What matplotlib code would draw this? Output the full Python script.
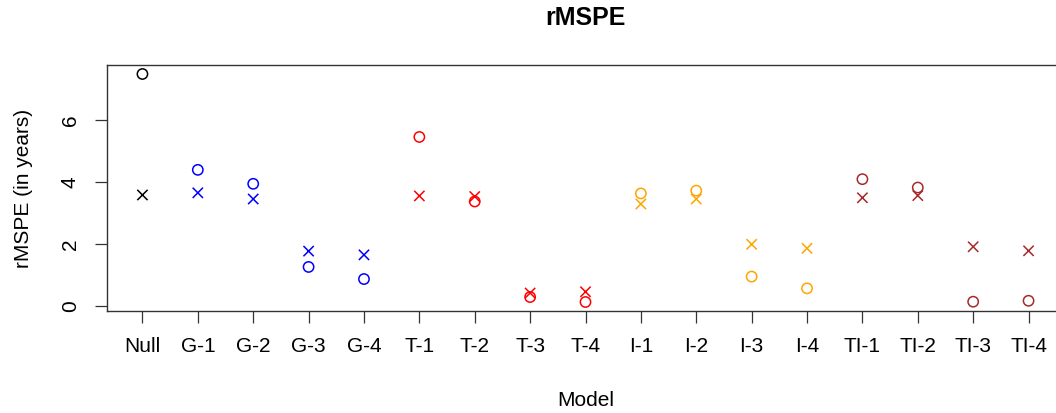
import numpy as np
import matplotlib
matplotlib.use("Agg")
import matplotlib.pyplot as plt

plt.rcParams['font.family'] = ['Liberation Sans', 'DejaVu Sans']

# models and their groups
models = ["Null", "G-1", "G-2", "G-3", "G-4", "T-1", "T-2", "T-3", "T-4",
          "I-1", "I-2", "I-3", "I-4", "TI-1", "TI-2", "TI-3", "TI-4"]
colors = ["black", "blue", "blue", "blue", "blue",
          "red", "red", "red", "red",
          "orange", "orange", "orange", "orange",
          "brown", "brown", "brown", "brown"]

# rMSPE values (circles and crosses)
rmspe_circle = [7.48, 4.39, 3.94, 1.26, 0.87, 5.45, 3.37, 0.29, 0.13,
                3.63, 3.72, 0.95, 0.57, 4.09, 3.82, 0.14, 0.17]
rmspe_cross = [3.58, 3.65, 3.45, 1.77, 1.65, 3.55, 3.53, 0.42, 0.46,
               3.29, 3.45, 1.99, 1.86, 3.49, 3.56, 1.91, 1.78]

x = np.arange(1, len(models) + 1)

fig = plt.figure(figsize=(10.56, 4.13), dpi=100)
ax = fig.add_axes([107 / 1056, 102 / 413, 957 / 1056, 246 / 413])

ax.scatter(x, rmspe_circle, marker='o', facecolors='none', edgecolors=colors,
           s=55, linewidths=1.1)
ax.scatter(x, rmspe_cross, marker='x', c=colors, s=55, linewidths=1.1)

ax.set_xlim(1 - 0.64, len(models) + 0.64)
ax.set_ylim(-0.16, 7.77)
ax.set_xticks(x)
ax.set_xticklabels(models)
ax.set_yticks([0, 2, 4, 6])
ax.set_yticklabels(["0", "2", "4", "6"], rotation=90, va='center')

ax.tick_params(axis='both', length=8.6, width=0.9, labelsize=15, color='#333333')
ax.tick_params(axis='x', pad=10)
ax.tick_params(axis='y', pad=11)
for sp in ax.spines.values():
    sp.set_linewidth(1.0)
    sp.set_color('#333333')

ax.set_title("rMSPE", fontsize=18, fontweight='bold', pad=29)
ax.set_xlabel("Model", fontsize=15, labelpad=25)
ax.set_ylabel("rMSPE (in years)", fontsize=15, labelpad=20)

fig.savefig("out.png", dpi=100)
